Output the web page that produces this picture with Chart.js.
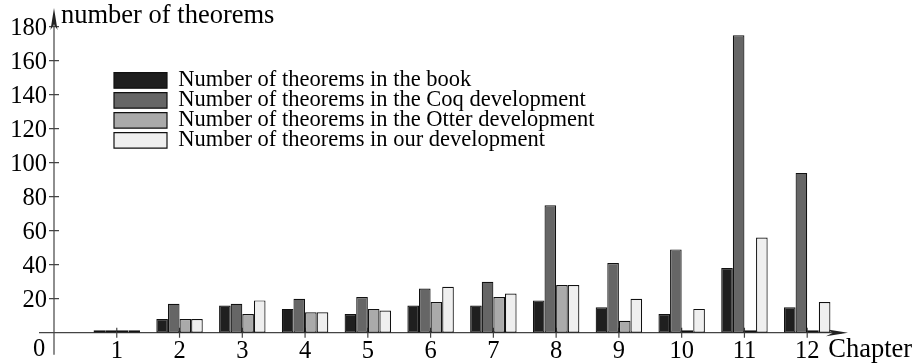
<!DOCTYPE html>
<html><head><meta charset="utf-8">
<script src="https://cdn.jsdelivr.net/npm/chart.js@4.4.0/dist/chart.umd.min.js"></script>
<style>html,body{margin:0;padding:0;background:#fff;}#wrap{width:917px;height:364px;}</style>
</head><body><div id="wrap"><canvas id="c" width="917" height="364"></canvas></div>
<script>
const chapters      = [1, 2, 3, 4, 5, 6, 7, 8, 9, 10, 11, 12];
const bookTheorems  = [0, 8, 16, 14, 11, 16, 16, 19, 15, 11, 38, 15];
const coqTheorems   = [0, 17, 17, 20, 21, 26, 30, 75, 41, 49, 175, 94];
const otterTheorems = [0, 8, 11, 12, 14, 18, 21, 28, 7, 0, 0, 0];
const ourTheorems   = [0, 8, 19, 12, 13, 27, 23, 28, 20, 14, 56, 18];
const yTicks = [20, 40, 60, 80, 100, 120, 140, 160, 180];
const seriesLabels = [
  'Number of theorems in the book',
  'Number of theorems in the Coq development',
  'Number of theorems in the Otter development',
  'Number of theorems in our development'
];
const yAxisTitle = 'number of theorems';
const xAxisTitle = 'Chapter';
const originLabel = '0';

const FONT = "'Liberation Serif', 'Times New Roman', serif";
const seriesColors = ['#1f1f1f', '#666666', '#aaaaaa', '#efefef'];
const seriesValues = [bookTheorems, coqTheorems, otterTheorems, ourTheorems];
const toPoints = vals => chapters.map((c, i) => ({x: c, y: vals[i]}));

const LEG_PAD = -2.5;
const decorPlugin = {
  id: 'decor',
  afterLayout(chart) {
    const lg = chart.legend;
    if (lg) {
      lg.left = 114 - LEG_PAD;
      lg.top = 69.2 - LEG_PAD;
      lg.draw = function () { if (this.options.display) this._draw(); };
    }
  },
  beforeDatasetsDraw(chart) {
    const {ctx, chartArea} = chart;
    const xs = chart.scales.x, ys = chart.scales.y;
    const x0 = xs.getPixelForValue(0), y0 = ys.getPixelForValue(0);
    ctx.save();
    ctx.strokeStyle = '#444';
    ctx.lineWidth = 1.2;
    ctx.beginPath();
    ctx.moveTo(x0 - 15, y0); ctx.lineTo(chartArea.right - 6, y0);
    ctx.moveTo(x0, y0 + 22); ctx.lineTo(x0, chartArea.top + 6);
    yTicks.forEach(v => { const p = ys.getPixelForValue(v); ctx.moveTo(x0 - 5, p); ctx.lineTo(x0 + 5, p); });
    chapters.forEach(c => { const p = xs.getPixelForValue(c); ctx.moveTo(p, y0 - 5); ctx.lineTo(p, y0 + 5); });
    ctx.stroke();
    ctx.fillStyle = '#222';
    const tx = chartArea.right;
    ctx.beginPath();
    ctx.moveTo(tx, y0); ctx.lineTo(tx - 22, y0 - 3.5); ctx.lineTo(tx - 15, y0); ctx.lineTo(tx - 22, y0 + 3.5); ctx.closePath();
    ctx.fill();
    const ty = chartArea.top;
    ctx.beginPath();
    ctx.moveTo(x0, ty); ctx.lineTo(x0 + 3.5, ty + 22); ctx.lineTo(x0, ty + 16); ctx.lineTo(x0 - 3.5, ty + 22); ctx.closePath();
    ctx.fill();
    ctx.restore();
  },
  afterDraw(chart) {
    const {ctx, chartArea} = chart;
    const xs = chart.scales.x, ys = chart.scales.y;
    const x0 = xs.getPixelForValue(0), y0 = ys.getPixelForValue(0);
    ctx.save();
    ctx.fillStyle = '#000';
    ctx.font = "24.5px " + FONT;
    ctx.textAlign = 'center'; ctx.textBaseline = 'middle';
    ctx.fillText(originLabel, x0 - 15, y0 + 17);
    ctx.textAlign = 'left'; ctx.textBaseline = 'alphabetic';
    ctx.font = "26.5px " + FONT;
    ctx.fillText(yAxisTitle, x0 + 7, chartArea.top + 14.5);
    ctx.font = "26.5px " + FONT;
    ctx.fillText(xAxisTitle, xs.getPixelForValue(12) + 21, y0 + 24.5);
    ctx.restore();
  }
};

new Chart(document.getElementById('c'), {
  type: 'bar',
  data: {
    datasets: seriesLabels.map((lab, i) => ({
      label: lab,
      data: toPoints(seriesValues[i]),
      backgroundColor: seriesColors[i],
      borderColor: '#111',
      borderWidth: 1.2,
      borderSkipped: false,
      minBarLength: 2.4,
      categoryPercentage: 0.74,
      barPercentage: 1
    }))
  },
  options: {
    responsive: false,
    animation: false,
    devicePixelRatio: 1,
    layout: {padding: {top: 8, right: 69, left: 0, bottom: 0}},
    scales: {
      x: {
        type: 'linear', min: 0, max: 12.65, offset: false,
        grid: {display: false, drawTicks: false},
        border: {display: false},
        afterBuildTicks: s => { s.ticks = chapters.map(v => ({value: v})); },
        afterFit: s => { s.height = 31.3; s.paddingLeft = 0; s.paddingRight = 0; },
        ticks: {autoSkip: false, maxRotation: 0, padding: 4, color: '#000',
                font: {family: FONT, size: 24.5}, callback: v => String(v)}
      },
      y: {
        min: 0, max: 191,
        grid: {display: false, drawTicks: false},
        border: {display: false},
        afterBuildTicks: s => { s.ticks = yTicks.map(v => ({value: v})); },
        afterFit: s => { s.width = 54; s.paddingTop = 0; s.paddingBottom = 0; },
        ticks: {padding: 7, labelOffset: 2, color: '#000', font: {family: FONT, size: 24.5}}
      }
    },
    plugins: {
      legend: {
        position: 'chartArea', align: 'start',
        labels: {boxWidth: 53, boxHeight: 15.5, padding: LEG_PAD, color: '#000',
                 font: {family: FONT, size: 22.5}}
      },
      tooltip: {enabled: false}
    }
  },
  plugins: [decorPlugin]
});
</script></body></html>
